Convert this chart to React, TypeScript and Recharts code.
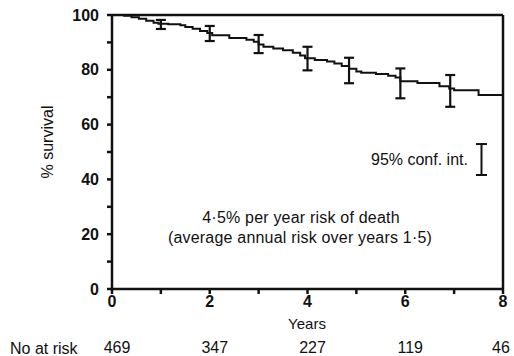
import {
  ComposedChart, Line, Scatter, ErrorBar, XAxis, YAxis, ReferenceLine
} from 'recharts'

// Kaplan-Meier survival estimate (years, % surviving)
const stepYears = [
  0, 0.25, 0.4, 0.55, 0.7, 0.85, 0.95, 1.15, 1.4, 1.5, 1.65, 1.8, 1.95, 2.05, 2.4, 2.75,
  2.9, 3.0, 3.1, 3.3, 3.5, 3.7, 3.85, 3.95, 4.15, 4.4, 4.55, 4.7, 4.85, 5.0, 5.1, 5.4,
  5.65, 5.8, 5.9, 6.25, 6.7, 6.9, 7.0, 7.5, 8,
]
const stepSurvival = [
  100, 99.7, 99.2, 98.6, 97.9, 97.2, 96.8, 96.6, 96.3, 95.6, 95, 94.2, 93.4, 92.6, 91.6, 91,
  90.2, 89.2, 88.4, 87.8, 87.1, 86.2, 85.2, 84.2, 83.6, 83, 82.3, 81.4, 80.4, 79.4, 78.9, 78.5,
  77.8, 77.2, 75.8, 75.2, 74, 73.2, 72.5, 70.8, 70.8,
]

// 95% confidence intervals
const ciYears = [1, 2, 3, 4, 4.85, 5.9, 6.92]
const ciMid = [96.5, 93, 89.5, 84.3, 80.5, 76, 72.8]
const ciLow = [94.9, 90.5, 86.1, 79.8, 75.1, 69.6, 66.5]
const ciHigh = [98.2, 96, 92.7, 88.4, 84.4, 80.5, 78.1]

// key sample for the "95% conf. int." note
const keyCi = { t: 7.56, mid: 47.3, low: 41.6, high: 52.9 }

const riskYears = [0, 2, 4, 6, 8]
const riskCounts = [469, 347, 227, 119, 46]

const xTicks = [0, 1, 2, 3, 4, 5, 6, 7, 8]
const yTicks = [0, 10, 20, 30, 40, 50, 60, 70, 80, 90, 100]

const curve = stepYears.map((t, i) => ({ t, s: stepSurvival[i] }))
const ciData = ciYears.map((t, i) => ({
  t, s: ciMid[i], err: [ciMid[i] - ciLow[i], ciHigh[i] - ciMid[i]],
}))
const keyData = [{ t: keyCi.t, s: keyCi.mid, err: [keyCi.mid - keyCi.low, keyCi.high - keyCi.mid] }]

const font = '"Liberation Sans", Arial, Helvetica, sans-serif'
const ink = '#111'

const txt = (left: number, top: number, s: string, extra: object = {}) => (
  <div style={{ position: 'absolute', left, top, fontSize: 16, color: ink, whiteSpace: 'nowrap', lineHeight: 1, ...extra }}>
    {s}
  </div>
)

// counts sit a little right of their tick, the last one kept inside the page
const RiskTick = ({ x, y, payload }: any) => {
  const i = riskYears.indexOf(payload.value)
  const last = i === riskYears.length - 1
  return (
    <text x={x + (last ? -2 : 5)} y={y} dy="0.71em" textAnchor="middle" fill={ink} fontSize={16} fontFamily={font}>
      {riskCounts[i]}
    </text>
  )
}

export default function App() {
  return (
    <div style={{ position: 'absolute', left: 0, top: 0, width: 514, height: 356, fontFamily: font, background: '#fff' }}>
      <ComposedChart width={514} height={356} margin={{ top: 15, right: 11, left: 60, bottom: 0 }}>
        <XAxis
          dataKey="t" type="number" domain={[0, 8]} ticks={xTicks} allowDataOverflow
          tickFormatter={v => (v % 2 === 0 ? String(v) : '')}
          height={30} tickSize={5} tickMargin={2}
          axisLine={{ stroke: ink, strokeWidth: 2.5 }}
          tickLine={{ stroke: ink, strokeWidth: 2.5 }}
          tick={{ fill: ink, fontSize: 16, fontWeight: 'bold', fontFamily: font }}
        />
        <XAxis
          xAxisId="risk" dataKey="t" type="number" domain={[0, 8]} ticks={riskYears} allowDataOverflow
          height={37} tickSize={0} tickMargin={23} axisLine={false} tickLine={false}
          tick={<RiskTick />}
        />
        <YAxis
          type="number" domain={[0, 100]} ticks={yTicks} width={52}
          tickFormatter={v => (v % 20 === 0 ? String(v) : '')}
          tickSize={5} tickMargin={8}
          axisLine={{ stroke: ink, strokeWidth: 2.5 }}
          tickLine={{ stroke: ink, strokeWidth: 2.5 }}
          tick={{ fill: ink, fontSize: 16, fontWeight: 'bold', fontFamily: font }}
        />
        <ReferenceLine y={100} stroke={ink} strokeWidth={2.5} />
        <ReferenceLine x={8} stroke={ink} strokeWidth={2.5} />
        <Line
          data={curve} dataKey="s" type="stepAfter" stroke={ink} strokeWidth={2}
          dot={false} activeDot={false} isAnimationActive={false}
        />
        <Scatter data={ciData} dataKey="s" shape={() => <g />} isAnimationActive={false}>
          <ErrorBar dataKey="err" direction="y" width={5} stroke={ink} strokeWidth={2.2} isAnimationActive={false} />
        </Scatter>
        <Scatter xAxisId="risk" data={keyData} dataKey="s" shape={() => <g />} isAnimationActive={false}>
          <ErrorBar dataKey="err" direction="y" width={5.5} stroke={ink} strokeWidth={2} isAnimationActive={false} />
        </Scatter>
      </ComposedChart>
      {txt(48, 142, '% survival', { transform: 'translate(-50%, -50%) rotate(-90deg)' })}
      {txt(371, 152, '95% conf. int.')}
      {txt(301, 210, '4·5% per year risk of death', { transform: 'translateX(-50%)', letterSpacing: 0.2 })}
      {txt(300, 230, '(average annual risk over years 1·5)', { transform: 'translateX(-50%)', letterSpacing: 0.2 })}
      {txt(307, 316, 'Years', { transform: 'translateX(-50%)', fontSize: 15 })}
      {txt(10, 341, 'No at risk')}
    </div>
  )
}
